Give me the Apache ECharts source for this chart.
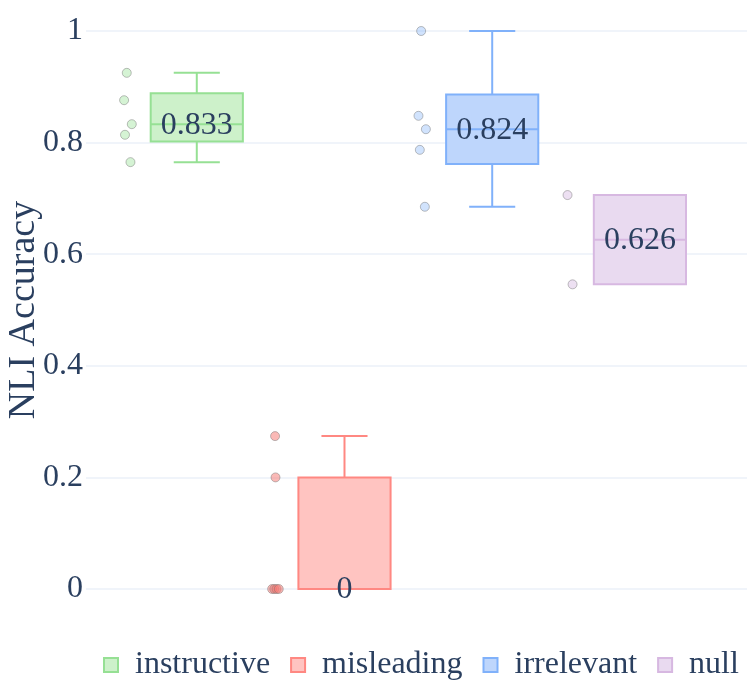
<!DOCTYPE html>
<html>
<head>
<meta charset="utf-8">
<script src="https://cdn.jsdelivr.net/npm/echarts@6/dist/echarts.min.js"></script>
<style>
  html, body { margin: 0; padding: 0; background: #fff; }
  #plot { width: 747px; height: 689px; }
</style>
</head>
<body>
<div id="plot"></div>
<script>
"use strict";

// Group names, in legend order.
var groups = ['instructive', 'misleading', 'irrelevant', 'null'];

// NLI accuracy of every run, per group.
var instructive = [0.925, 0.876, 0.833, 0.814, 0.765];
var misleading = [0.274, 0.2, 0, 0, 0, 0];
var irrelevant = [1.0, 0.848, 0.824, 0.787, 0.685];
var nullPrompt = [0.706, 0.546];

// Horizontal jitter of the points, in group widths.
var jitter = [
  [-0.474, -0.492, -0.440, -0.486, -0.449],
  [-0.470, -0.467, -0.490, -0.475, -0.460, -0.445],
  [-0.481, -0.499, -0.449, -0.490, -0.456],
  [-0.490, -0.456]
];

var yTicks = [0, 0.2, 0.4, 0.6, 0.8, 1];

var values = [instructive, misleading, irrelevant, nullPrompt];
var lineColors = ['#96e094', '#ff8882', '#80b1fa', '#d7b8e1'];
var fillColors = ['#cdf1ca', '#ffc4c1', '#bed6fc', '#e9daf0'];
var pointColors = ['rgba(150,224,148,0.5)', 'rgba(245,120,115,0.65)',
                   'rgba(128,177,250,0.45)', 'rgba(215,184,225,0.55)'];
var textColor = '#2a3f5f';
var serif = '"Liberation Serif", "DejaVu Serif", serif';

// Group centres on the hidden value axis.
var firstCentre = 0.75;
var xMax = 4.475;

// Quantile as Plotly computes it for boxes (linear method).
function quantile(sorted, p) {
  var n = sorted.length;
  var pos = Math.min(Math.max(p * n + 0.5, 1), n) - 1;
  var lo = Math.floor(pos);
  var hi = Math.ceil(pos);
  return sorted[lo] + (sorted[hi] - sorted[lo]) * (pos - lo);
}

function boxStats(list) {
  var s = list.slice().sort(function (a, b) { return a - b; });
  var q1 = quantile(s, 0.25);
  var med = quantile(s, 0.5);
  var q3 = quantile(s, 0.75);
  var iqr = q3 - q1;
  var inside = s.filter(function (v) { return v >= q1 - 1.5 * iqr && v <= q3 + 1.5 * iqr; });
  return [inside[0], q1, med, q3, inside[inside.length - 1]];
}

function renderBox(params, api) {
  var x = api.value(0);
  var lo = api.coord([x, api.value(1)]);
  var q1 = api.coord([x, api.value(2)]);
  var med = api.coord([x, api.value(3)]);
  var q3 = api.coord([x, api.value(4)]);
  var hi = api.coord([x, api.value(5)]);
  var unit = api.size([1, 0])[0];
  var half = unit * 0.312;
  var cap = half / 2;
  var i = params.seriesIndex;
  var stroke = { stroke: lineColors[i], lineWidth: 2 };
  var cx = med[0];
  var label = String(Number(api.value(3).toFixed(3)));
  var children = [];
  if (api.value(5) > api.value(4)) {
    children.push({ type: 'line', shape: { x1: cx, y1: hi[1], x2: cx, y2: q3[1] }, style: stroke });
    children.push({ type: 'line', shape: { x1: cx - cap, y1: hi[1], x2: cx + cap, y2: hi[1] }, style: stroke });
  }
  if (api.value(1) < api.value(2)) {
    children.push({ type: 'line', shape: { x1: cx, y1: q1[1], x2: cx, y2: lo[1] }, style: stroke });
    children.push({ type: 'line', shape: { x1: cx - cap, y1: lo[1], x2: cx + cap, y2: lo[1] }, style: stroke });
  }
  children.push({
    type: 'rect',
    shape: { x: cx - half, y: q3[1], width: half * 2, height: q1[1] - q3[1] },
    style: { fill: fillColors[i], stroke: lineColors[i], lineWidth: 2 }
  });
  children.push({ type: 'line', shape: { x1: cx - half, y1: med[1], x2: cx + half, y2: med[1] }, style: stroke });
  children.push({
    type: 'text',
    style: {
      text: label, x: cx, y: med[1] + 1, align: 'center', verticalAlign: 'middle',
      fill: textColor, fontSize: 32, fontFamily: serif
    }
  });
  return { type: 'group', children: children };
}

var series = [];
groups.forEach(function (name, i) {
  var centre = firstCentre + i;
  series.push({
    name: name,
    type: 'custom',
    renderItem: renderBox,
    clip: false,
    z: 2,
    data: [[centre].concat(boxStats(values[i]))]
  });
});
groups.forEach(function (name, i) {
  var centre = firstCentre + i;
  series.push({
    name: name,
    type: 'scatter',
    symbol: 'circle',
    symbolSize: 9,
    clip: false,
    z: 3,
    itemStyle: { color: pointColors[i], borderColor: 'rgba(110,110,110,0.55)', borderWidth: 1 },
    data: values[i].map(function (v, k) { return [centre + jitter[i][k], v]; })
  });
});

var chart = echarts.init(document.getElementById('plot'));
chart.setOption({
  animation: false,
  backgroundColor: '#fff',
  grid: { left: 86, right: 0, top: 31, bottom: 100, containLabel: false, outerBoundsMode: 'none' },
  xAxis: {
    type: 'value', min: 0, max: xMax, show: false, splitLine: { show: false }
  },
  yAxis: {
    type: 'value', min: yTicks[0], max: yTicks[yTicks.length - 1], interval: 0.2,
    name: 'NLI Accuracy', nameLocation: 'middle', nameGap: 43, nameMoveOverlap: false,
    nameTextStyle: { color: textColor, fontSize: 38, fontFamily: serif },
    axisLine: { show: false },
    axisTick: { show: false },
    axisLabel: { color: textColor, fontSize: 32, fontFamily: serif, margin: 3 },
    splitLine: { lineStyle: { color: '#ebf0f8', width: 1.5 } }
  },
  legend: {
    left: 98, top: 644, width: 900,
    itemWidth: 14, itemHeight: 14, itemGap: 20,
    textStyle: { color: textColor, fontSize: 32, fontFamily: serif, padding: [0, 0, 0, 12] },
    data: groups.map(function (name, i) {
      return {
        name: name, icon: 'rect',
        itemStyle: { color: fillColors[i], borderColor: lineColors[i], borderWidth: 2 }
      };
    })
  },
  series: series
});
</script>
</body>
</html>
